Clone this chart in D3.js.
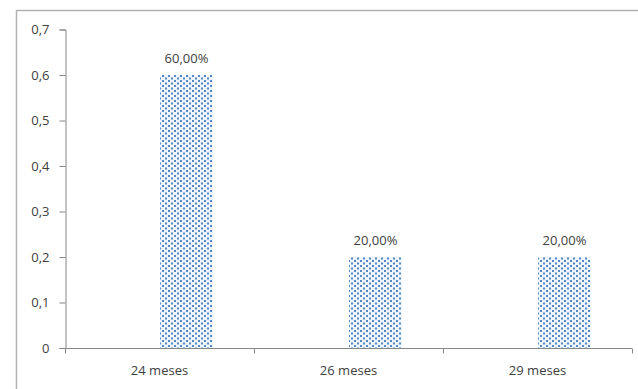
<!DOCTYPE html>
<html><head><meta charset="utf-8">
<script src="https://cdn.jsdelivr.net/npm/d3@7"></script>
<style>body{margin:0;background:#fff}svg{display:block}text{font-family:"Open Sans",sans-serif;fill:#404040}</style>
</head><body>
<script>
const categories = ["24 meses", "26 meses", "29 meses"];
const values = [0.6, 0.2, 0.2];
const valueLabels = ["60,00%", "20,00%", "20,00%"];
const yTicks = [0, 0.1, 0.2, 0.3, 0.4, 0.5, 0.6, 0.7];

const W = 638, H = 389;
const svg = d3.select("body").append("svg").attr("width", W).attr("height", H);
const defs = svg.append("defs");
const pat = defs.append("pattern").attr("id", "dots").attr("patternUnits", "userSpaceOnUse")
  .attr("width", 6).attr("height", 5);
pat.append("rect").attr("width", 6).attr("height", 5).attr("fill", "#eef5fc");
pat.append("rect").attr("x", 0).attr("y", 0).attr("width", 2).attr("height", 2).attr("fill", "#5587c4");
pat.append("rect").attr("x", 3).attr("y", 2.5).attr("width", 2).attr("height", 2).attr("fill", "#5587c4");

// outer chart border (cropped at right/bottom)
svg.append("rect").attr("x", 16.5).attr("y", 10.5).attr("width", 700).attr("height", 500)
  .attr("fill", "none").attr("stroke", "#b3b3b3").attr("stroke-width", 1.5);

const x0 = 65, x1 = 632, y0 = 348, y1 = 29.5;
const x = d3.scaleBand().domain(categories).range([x0, x1]).padding(0);
const y = d3.scaleLinear().domain([0, 0.7]).range([y0, y1]);
// clustered layout: this series occupies the second slot beside an empty one
const barW = x.bandwidth() * 0.28;
const barX = c => x(c) + x.bandwidth() / 2 + 0.5;

// y axis
const yAxis = svg.append("g").attr("transform", `translate(${x0 + 0.5},0)`)
  .call(d3.axisLeft(y).tickValues(yTicks).tickSize(6).tickPadding(10)
    .tickFormat(d => d === 0 ? "0" : d3.format(".1f")(d).replace(".", ",")));
yAxis.selectAll("path,line").attr("stroke", "#868686");
yAxis.selectAll("text").attr("font-size", 13).style("font-family", "'Open Sans',sans-serif").attr("fill", "#404040");

// bars
svg.selectAll("rect.bar").data(values).join("rect").attr("class", "bar")
  .attr("x", (d, i) => barX(categories[i]))
  .attr("y", d => y(d)).attr("width", barW).attr("height", d => y(0) - y(d))
  .attr("fill", "url(#dots)");

// value labels
svg.selectAll("text.vl").data(values).join("text").attr("class", "vl")
  .attr("x", (d, i) => barX(categories[i]) + barW / 2)
  .attr("y", d => y(d) - 12).attr("text-anchor", "middle").attr("font-size", 13)
  .text((d, i) => valueLabels[i]);

// x axis
const xg = svg.append("g").attr("transform", `translate(0,${y0 + 0.5})`);
xg.append("line").attr("x1", x0).attr("x2", x1).attr("stroke", "#868686");
const bounds = [x0, ...categories.map(c => x(c) + x.bandwidth())];
xg.selectAll("line.t").data(bounds).join("line").attr("class", "t")
  .attr("x1", d => Math.round(d) + 0.5).attr("x2", d => Math.round(d) + 0.5)
  .attr("y1", 0).attr("y2", 5).attr("stroke", "#868686");
xg.selectAll("text").data(categories).join("text")
  .attr("x", d => x(d) + x.bandwidth() / 2).attr("y", 26)
  .attr("text-anchor", "middle").attr("font-size", 13).text(d => d);
</script>
</body></html>
